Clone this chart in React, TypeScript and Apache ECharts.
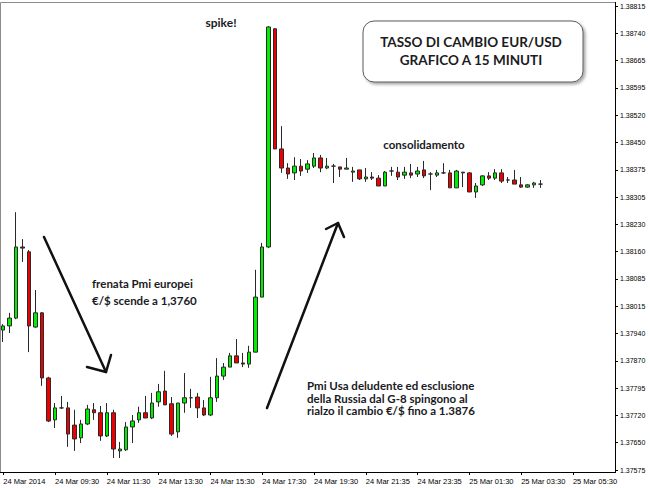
import React, { useEffect, useRef } from "react";
import * as echarts from "echarts";

// EUR/USD M15 bars: open, close, low, high
const opens = [
  1.37949, 1.3796, 1.37981, 1.38171, 1.38158, 1.37957, 1.37995, 1.37821, 1.37709, 1.37741,
  1.37741, 1.37695, 1.37661, 1.37698, 1.37736, 1.37728, 1.37666, 1.37728, 1.37626, 1.37629,
  1.3769, 1.37709, 1.37728, 1.37714, 1.37757, 1.37786, 1.37752, 1.37677, 1.37754, 1.37768,
  1.3777, 1.37741, 1.37722, 1.37768, 1.37826, 1.3785, 1.3788, 1.37861, 1.37858, 1.3789,
  1.38037, 1.38171, 1.38754, 1.38433, 1.38382, 1.38369, 1.38387, 1.38379, 1.38387, 1.38409,
  1.38382, 1.38387, 1.38385, 1.38379, 1.38371, 1.38377, 1.38353, 1.38358, 1.38355, 1.38334,
  1.38374, 1.38371, 1.38363, 1.38369, 1.38366, 1.38377, 1.38366, 1.38363, 1.38369, 1.38369,
  1.38329, 1.38371, 1.38369, 1.38318, 1.38337, 1.38361, 1.38355, 1.38369, 1.3835, 1.3835,
  1.38337, 1.38331, 1.38337, 1.38339,
];
const closes = [
  1.3796, 1.37981, 1.38171, 1.38168, 1.3796, 1.37995, 1.37821, 1.37706, 1.37741, 1.37741,
  1.37671, 1.37658, 1.37698, 1.37738, 1.37728, 1.37666, 1.37728, 1.37631, 1.37631, 1.3769,
  1.37706, 1.37728, 1.37714, 1.37754, 1.37784, 1.37749, 1.37671, 1.37754, 1.37768, 1.37768,
  1.37741, 1.37722, 1.37768, 1.37826, 1.3785, 1.3788, 1.37861, 1.37858, 1.3789, 1.38037,
  1.38171, 1.38759, 1.38433, 1.38382, 1.38366, 1.38387, 1.38374, 1.38393, 1.38409, 1.38382,
  1.38387, 1.38387, 1.38379, 1.38382, 1.38374, 1.38353, 1.38358, 1.38355, 1.38334, 1.38371,
  1.38374, 1.38358, 1.38371, 1.38363, 1.38374, 1.38361, 1.38366, 1.38369, 1.38369, 1.38329,
  1.38374, 1.38369, 1.38318, 1.38334, 1.38361, 1.38355, 1.38369, 1.38347, 1.3835, 1.38339,
  1.38331, 1.38337, 1.38342, 1.38339,
];
const lows = [
  1.37917, 1.37941, 1.37978, 1.38131, 1.3789, 1.37955, 1.378, 1.37703, 1.37687, 1.37738,
  1.37637, 1.37626, 1.37647, 1.37695, 1.37709, 1.37653, 1.37663, 1.37607, 1.37607, 1.37626,
  1.37647, 1.37701, 1.37714, 1.37711, 1.37744, 1.37749, 1.37666, 1.37661, 1.37728, 1.37741,
  1.37714, 1.37719, 1.37719, 1.37757, 1.37816, 1.3785, 1.37861, 1.3785, 1.37848, 1.3789,
  1.38037, 1.38168, 1.38433, 1.38369, 1.38353, 1.3835, 1.38361, 1.38369, 1.38382, 1.38371,
  1.38379, 1.38342, 1.38358, 1.38379, 1.38345, 1.3835, 1.38345, 1.3835, 1.38334, 1.38334,
  1.38361, 1.3835, 1.38353, 1.38355, 1.38358, 1.38355, 1.38323, 1.38358, 1.38366, 1.38329,
  1.38329, 1.38331, 1.38318, 1.38302, 1.38334, 1.3835, 1.3835, 1.38342, 1.38342, 1.38339,
  1.38329, 1.38329, 1.38329, 1.38329,
];
const highs = [
  1.37965, 1.37995, 1.38264, 1.38192, 1.38163, 1.38056, 1.37997, 1.37824, 1.37754, 1.37773,
  1.37757, 1.37736, 1.37709, 1.37749, 1.37754, 1.37746, 1.37754, 1.37736, 1.3765, 1.37703,
  1.37722, 1.37744, 1.37773, 1.37781, 1.37805, 1.3784, 1.3777, 1.37754, 1.37834, 1.37792,
  1.37781, 1.37762, 1.37824, 1.37874, 1.37861, 1.37888, 1.37925, 1.37888, 1.37907, 1.3811,
  1.38182, 1.38761, 1.38756, 1.38494, 1.38395, 1.38411, 1.38406, 1.38403, 1.38422, 1.38417,
  1.38409, 1.38393, 1.38385, 1.38409, 1.38385, 1.38377, 1.38382, 1.38371, 1.38363, 1.38374,
  1.38385, 1.38385, 1.38385, 1.38393, 1.38385, 1.38401, 1.38371, 1.38377, 1.38395, 1.38377,
  1.38377, 1.38371, 1.38371, 1.38342, 1.38363, 1.38371, 1.38379, 1.38379, 1.38358, 1.38377,
  1.38358, 1.38339, 1.38345, 1.3835,
];

// time axis: 95 slots of 15 minutes, labelled every 8 slots
const slotCount = 95;
const xTickLabels = [
  "24 Mar 2014", "24 Mar 09:30", "24 Mar 11:30", "24 Mar 13:30", "24 Mar 15:30", "24 Mar 17:30",
  "24 Mar 19:30", "24 Mar 21:35", "24 Mar 23:35", "25 Mar 01:30", "25 Mar 03:30", "25 Mar 05:30",
];
const yTickLabels = [
  "1.37575", "1.37650", "1.37720", "1.37795", "1.37870", "1.37940", "1.38015", "1.38085", "1.38160",
  "1.38230", "1.38305", "1.38375", "1.38450", "1.38520", "1.38595", "1.38665", "1.38740", "1.38815",
];
const priceMin = 1.37575;
const priceMax = 1.38815;

const ANNOT_FONT = "Lato, 'Open Sans', sans-serif";
const AXIS_FONT = "'Liberation Sans', Arial, sans-serif";

export default function App() {
  const ref = useRef<HTMLDivElement>(null);

  useEffect(() => {
    if (!ref.current) return;
    const chart = echarts.init(ref.current, undefined, { renderer: "svg" });
    const step = (priceMax - priceMin) / (yTickLabels.length - 1);
    const categories: string[] = [];
    for (let i = 0; i < slotCount; i++) categories.push(String(i));
    const bars = opens.map((o, i) => [o, closes[i], lows[i], highs[i]]);

    const note = (text: string, x: number, y: number, size: number, align = "left", lineHeight = 13) => ({
      type: "text",
      x,
      y,
      silent: true,
      style: {
        text,
        fill: "#1b1b24",
        font: `bold ${size}px ${ANNOT_FONT}`,
        lineHeight,
        textAlign: align,
        textVerticalAlign: "middle",
      },
    });
    const arrowStyle = { stroke: "#111", lineWidth: 2.5, lineCap: "round", lineJoin: "round", fill: "none" };

    chart.setOption({
      animation: false,
      backgroundColor: "#ffffff",
      grid: { left: 0, right: 35, top: 6, bottom: 18, containLabel: false },
      xAxis: {
        type: "category",
        data: categories,
        boundaryGap: true,
        offset: 2,
        axisLine: { show: false },
        axisTick: { show: true, alignWithLabel: true, interval: 7, length: 3, lineStyle: { color: "#000" } },
        axisLabel: {
          interval: 7,
          align: "left",
          margin: 5,
          fontSize: 7.5,
          fontFamily: AXIS_FONT,
          color: "#000",
          formatter: (_v: string, idx: number) => xTickLabels[Math.round(idx / 8)] ?? "",
        },
        splitLine: { show: false },
      },
      yAxis: {
        type: "value",
        position: "right",
        min: priceMin,
        max: priceMax,
        interval: step,
        scale: true,
        axisLine: { show: false },
        axisTick: { show: true, length: 3, lineStyle: { color: "#000" } },
        axisLabel: {
          margin: 5,
          fontSize: 7,
          fontFamily: AXIS_FONT,
          color: "#000",
          showMaxLabel: true,
          showMinLabel: true,
          formatter: (v: number) => yTickLabels[Math.round((v - priceMin) / step)] ?? "",
        },
        splitLine: { show: false },
      },
      series: [
        {
          type: "candlestick",
          data: bars,
          barWidth: 4,
          itemStyle: {
            color: "#00ee00",
            color0: "#ee0000",
            borderColor: "#2a2a2a",
            borderColor0: "#2a2a2a",
            borderColorDoji: "#2a2a2a",
            borderWidth: 1,
          },
        },
      ],
      graphic: [
        // chart frame
        { type: "line", silent: true, shape: { x1: 0.5, y1: 2.5, x2: 615, y2: 2.5 }, style: { stroke: "#8c8c8c", lineWidth: 1 } },
        { type: "line", silent: true, shape: { x1: 0.5, y1: 2.5, x2: 0.5, y2: 472 }, style: { stroke: "#8c8c8c", lineWidth: 1 } },
        { type: "line", silent: true, shape: { x1: 615.5, y1: 2, x2: 615.5, y2: 473 }, style: { stroke: "#000", lineWidth: 1 } },
        { type: "line", silent: true, shape: { x1: 0, y1: 472.5, x2: 616, y2: 472.5 }, style: { stroke: "#000", lineWidth: 1 } },
        // title box
        {
          type: "rect",
          silent: true,
          shape: { x: 363, y: 21, width: 220, height: 61, r: 11 },
          style: {
            fill: "#ffffff",
            stroke: "#5a5a5a",
            lineWidth: 1,
            shadowBlur: 3,
            shadowOffsetX: 2,
            shadowOffsetY: 2,
            shadowColor: "rgba(0,0,0,0.35)",
          },
        },
        {
          type: "text",
          x: 471,
          y: 51,
          silent: true,
          style: {
            text: "TASSO DI CAMBIO EUR/USD\nGRAFICO A 15 MINUTI",
            fill: "#1b1b24",
            font: `bold 13.5px ${ANNOT_FONT}`,
            lineHeight: 18,
            textAlign: "center",
            textVerticalAlign: "middle",
          },
        },
        note("spike!", 221, 22, 12, "center"),
        note("consolidamento", 424, 144, 11.5, "center"),
        note("frenata Pmi europei\n€/$ scende a 1,3760", 92, 292, 11.5, "left", 17),
        note("Pmi Usa deludente ed esclusione\ndella Russia dal G-8 spingono al\nrialzo il cambio €/$ fino a 1.3876", 307, 398, 11.5, "left", 12.8),
        // arrows
        { type: "line", silent: true, shape: { x1: 44, y1: 237, x2: 106, y2: 372 }, style: arrowStyle },
        { type: "polyline", silent: true, shape: { points: [[87, 367], [106, 372], [111, 355]] }, style: arrowStyle },
        { type: "line", silent: true, shape: { x1: 267, y1: 408, x2: 338, y2: 223 }, style: arrowStyle },
        { type: "polyline", silent: true, shape: { points: [[326, 229], [338, 223], [344, 237]] }, style: arrowStyle },
      ],
    });
    return () => chart.dispose();
  }, []);

  return (
    <div
      ref={ref}
      style={{ position: "absolute", left: 0, top: 0, width: 650, height: 488, background: "#fff" }}
    />
  );
}
